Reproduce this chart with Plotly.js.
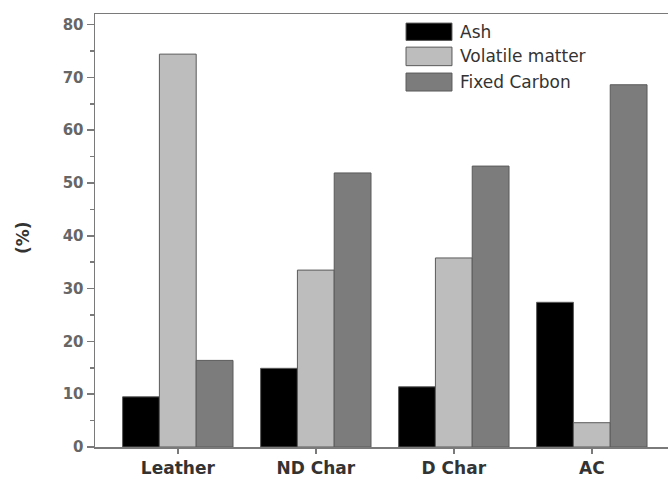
<!DOCTYPE html>
<html>
<head>
<meta charset="utf-8">
<script src="https://cdn.plot.ly/plotly-3.0.1.min.js"></script>
<style>
  html, body { margin: 0; padding: 0; background: #fff; overflow: hidden; }
  #chart { width: 668px; height: 479px; }
</style>
</head>
<body>
<div id="chart"></div>
<script>
// Proximate analysis of the samples (%)
const categories = ["Leather", "ND Char", "D Char", "AC"];
const seriesNames = ["Ash", "Volatile matter", "Fixed Carbon"];
const ash = [9.5, 14.9, 11.4, 27.4];
const volatileMatter = [74.4, 33.5, 35.8, 4.6];
const fixedCarbon = [16.4, 51.9, 53.2, 68.6];
const yTicks = [0, 10, 20, 30, 40, 50, 60, 70, 80];

const fills = ["#000000", "#bdbdbd", "#7c7c7c"];
const outline = "#5a5a5a";
const axisGrey = "#7a7a7a";
const font = "DejaVu Sans";

const values = [ash, volatileMatter, fixedCarbon];
const traces = values.map((v, i) => ({
  type: "bar",
  name: seriesNames[i],
  x: [0, 1, 2, 3],
  y: v,
  marker: { color: fills[i], line: { color: outline, width: 1 } },
  hoverinfo: "x+y+name"
}));

// Hand-built legend block in the upper middle of the plot
const legendShapes = [];
const legendNotes = [];
const swX0 = 0.5428, swX1 = 0.623;
const rows = [[0.939, 0.979], [0.8807, 0.9235], [0.8221, 0.8636]];
seriesNames.forEach((name, i) => {
  legendShapes.push({
    type: "rect", xref: "paper", yref: "paper",
    x0: swX0, x1: swX1, y0: rows[i][0], y1: rows[i][1],
    fillcolor: fills[i], line: { color: outline, width: 1 }
  });
  legendNotes.push({
    xref: "paper", yref: "paper", x: 0.6335, y: (rows[i][0] + rows[i][1]) / 2,
    xanchor: "left", yanchor: "middle", showarrow: false, text: name,
    font: { family: font, size: 17, color: "#333333" }
  });
});

// Rotated unit label on the left
legendNotes.push({
  xref: "paper", yref: "paper", x: -0.1257, y: 0.485,
  xanchor: "center", yanchor: "middle", showarrow: false, textangle: -90,
  text: "<b>(%)</b>", font: { family: font, size: 17, color: "#333333" }
});

const layout = {
  width: 668, height: 479,
  margin: { l: 95, r: 0, t: 14, b: 32, pad: 0 },
  paper_bgcolor: "#ffffff", plot_bgcolor: "#ffffff",
  showlegend: false,
  barmode: "group", bargap: 0.2, bargroupgap: 0,
  xaxis: {
    range: [-0.6, 3.552],
    tickmode: "array", tickvals: [0, 1, 2, 3], ticktext: categories.map(c => "<b>" + c + "</b>"),
    ticks: "outside", ticklen: 5, tickwidth: 1.5, tickcolor: axisGrey,
    showline: true, linecolor: axisGrey, linewidth: 1.5, mirror: true,
    showgrid: false, zeroline: false,
    tickfont: { family: font, size: 17, color: "#333333" }
  },
  yaxis: {
    range: [0, 82],
    tickmode: "array", tickvals: yTicks, ticktext: yTicks.map(t => "<b>" + t + "</b>"),
    ticks: "outside", ticklen: 7, tickwidth: 1.5, tickcolor: axisGrey,
    minor: { dtick: 5, ticks: "outside", ticklen: 4, tickcolor: axisGrey, showgrid: false },
    showline: true, linecolor: axisGrey, linewidth: 1.5, mirror: false,
    showgrid: false, zeroline: false,
    tickfont: { family: font, size: 15, color: "#666666" }
  },
  shapes: legendShapes,
  annotations: legendNotes
};

Plotly.newPlot("chart", traces, layout, { displayModeBar: false, staticPlot: true });
</script>
</body>
</html>
